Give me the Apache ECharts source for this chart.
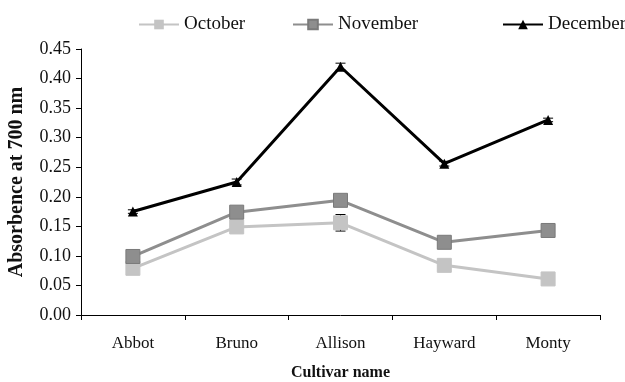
<!DOCTYPE html>
<html>
<head>
<meta charset="utf-8">
<script src="https://cdn.jsdelivr.net/npm/echarts@6/dist/echarts.min.js"></script>
<style>
  html, body { margin: 0; padding: 0; background: #fff; }
  #chart { width: 625px; height: 382px; }
</style>
</head>
<body>
<div id="chart"></div>
<script>
// Cultivars on the x axis
const cultivars = ['Abbot', 'Bruno', 'Allison', 'Hayward', 'Monty'];

// Mean absorbance at 700 nm per month
const october  = [0.079, 0.149, 0.156, 0.084, 0.061];
const november = [0.099, 0.174, 0.194, 0.123, 0.143];
const december = [0.175, 0.225, 0.420, 0.256, 0.330];

// Half-width of the error bars
const octoberErr  = [0.004, 0.004, 0.014, 0.006, 0.003];
const novemberErr = [0.004, 0.004, 0.005, 0.004, 0.004];
const decemberErr = [0.003, 0.005, 0.006, 0.004, 0.003];

// Y axis ticks
const yMin = 0, yMax = 0.45, yStep = 0.05;

const FONT = '"Liberation Serif", "Times New Roman", serif';

function errorSeries(values, errs, color) {
  return {
    type: 'custom',
    silent: true,
    z: 1,
    data: values.map((v, i) => [i, v - errs[i], v + errs[i]]),
    renderItem(params, api) {
      const lo = api.coord([api.value(0), api.value(1)]);
      const hi = api.coord([api.value(0), api.value(2)]);
      const w = 5;
      const style = { stroke: color, lineWidth: 1 };
      return {
        type: 'group',
        children: [
          { type: 'line', shape: { x1: lo[0], y1: lo[1], x2: hi[0], y2: hi[1] }, style },
          { type: 'line', shape: { x1: hi[0] - w, y1: hi[1], x2: hi[0] + w, y2: hi[1] }, style },
          { type: 'line', shape: { x1: lo[0] - w, y1: lo[1], x2: lo[0] + w, y2: lo[1] }, style }
        ]
      };
    }
  };
}

function legendAt(left, name) {
  return {
    top: 10,
    left: left,
    itemWidth: 40,
    itemHeight: 12,
    textStyle: { fontFamily: FONT, fontSize: 19, color: '#111' },
    data: [name]
  };
}

const chart = echarts.init(document.getElementById('chart'), null, { renderer: 'canvas' });

chart.setOption({
  animation: false,
  textStyle: { fontFamily: FONT },
  legend: [
    legendAt(133, 'October'),
    legendAt(287, 'November'),
    legendAt(497, 'December')
  ],
  grid: { left: 81, right: 25, top: 49, bottom: 67, outerBoundsMode: 'none', containLabel: false },
  xAxis: {
    type: 'category',
    data: cultivars,
    boundaryGap: true,
    name: 'Cultivar name',
    nameLocation: 'middle',
    nameGap: 50,
    nameTextStyle: { fontFamily: FONT, fontSize: 16, fontWeight: 'bold', color: '#111' },
    axisLine: { lineStyle: { color: '#000', width: 1 } },
    axisTick: { show: true, alignWithLabel: false, length: 5, inside: false, lineStyle: { color: '#000' } },
    axisLabel: { fontFamily: FONT, fontSize: 17, color: '#111', margin: 20 },
    splitLine: { show: false }
  },
  yAxis: {
    type: 'value',
    min: yMin,
    max: yMax,
    interval: yStep,
    name: 'Absorbence at 700 nm',
    nameLocation: 'middle',
    nameGap: 54,
    nameTextStyle: { fontFamily: FONT, fontSize: 20, fontWeight: 'bold', color: '#111' },
    axisLine: { show: true, lineStyle: { color: '#000', width: 1 } },
    axisTick: { show: true, length: 5, lineStyle: { color: '#000' } },
    axisLabel: {
      fontFamily: FONT, fontSize: 18, color: '#111', margin: 10,
      formatter: v => v.toFixed(2)
    },
    splitLine: { show: false }
  },
  series: [
    errorSeries(october, octoberErr, '#000'),
    errorSeries(november, novemberErr, '#000'),
    errorSeries(december, decemberErr, '#000'),
    {
      name: 'October',
      type: 'line',
      data: october,
      symbol: 'rect',
      symbolSize: 14,
      z: 3,
      lineStyle: { color: '#c4c4c4', width: 3 },
      itemStyle: { color: '#c4c4c4', borderColor: '#c4c4c4' }
    },
    {
      name: 'November',
      type: 'line',
      data: november,
      symbol: 'rect',
      symbolSize: 14,
      z: 4,
      lineStyle: { color: '#8e8e8e', width: 3 },
      itemStyle: { color: '#8e8e8e', borderColor: '#7a7a7a', borderWidth: 1 }
    },
    {
      name: 'December',
      type: 'line',
      data: december,
      symbol: 'triangle',
      symbolSize: 10,
      z: 5,
      lineStyle: { color: '#000', width: 3 },
      itemStyle: { color: '#000' }
    }
  ]
});
</script>
</body>
</html>
